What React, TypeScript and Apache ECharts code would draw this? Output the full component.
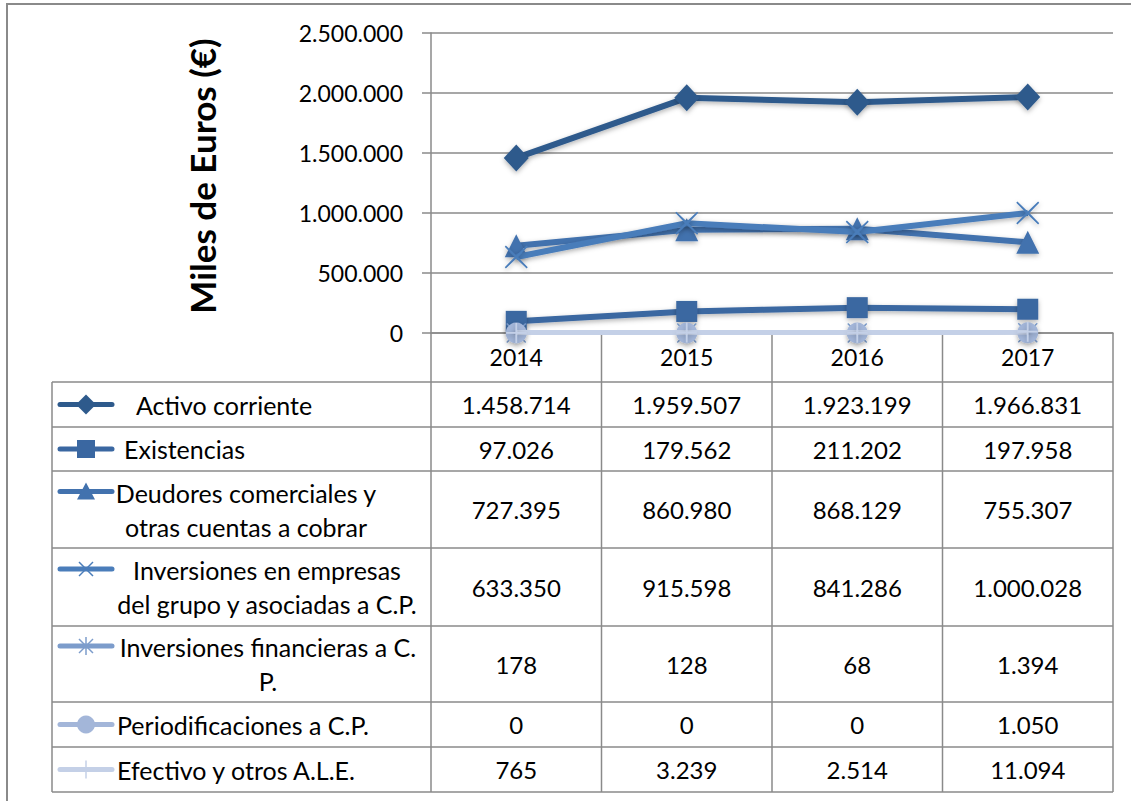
import React, { useEffect, useRef } from "react";
import * as echarts from "echarts";

const years = ["2014", "2015", "2016", "2017"];
const activoCorriente = [1458714, 1959507, 1923199, 1966831];
const existencias = [97026, 179562, 211202, 197958];
const deudores = [727395, 860980, 868129, 755307];
const invEmpresas = [633350, 915598, 841286, 1000028];
const invFinancieras = [178, 128, 68, 1394];
const periodificaciones = [0, 0, 0, 1050];
const efectivo = [765, 3239, 2514, 11094];

const seriesNames = [
  "Activo corriente",
  "Existencias",
  "Deudores comerciales y otras cuentas a cobrar",
  "Inversiones en empresas del grupo y asociadas a C.P.",
  "Inversiones financieras a C. P.",
  "Periodificaciones a C.P.",
  "Efectivo y otros A.L.E.",
];
const legendLines = [
  ["Activo corriente"],
  ["Existencias"],
  ["Deudores comerciales y", "otras cuentas a cobrar"],
  ["Inversiones en empresas", "del grupo y asociadas a C.P."],
  ["Inversiones financieras a C.", "P."],
  ["Periodificaciones a C.P."],
  ["Efectivo y otros A.L.E."],
];
const yMin = 0;
const yMax = 2500000;
const yInterval = 500000;

const FONT = "Lato, 'Noto Sans', sans-serif";
const GRID_LEFT = 431;
const GRID_TOP = 33;
const GRID_W = 682;
const GRID_H = 300;
const TABLE_LEFT = 52;
const ROW_LINES = [382, 427, 471, 548, 626, 702, 747, 792];
const LEGEND_TEXT = [
  { align: "left", x: 136 },
  { align: "left", x: 124 },
  { align: "center", x: 246 },
  { align: "center", x: 267 },
  { align: "center", x: 268 },
  { align: "left", x: 117 },
  { align: "left", x: 117 },
];
const GRID_COLOR = "#8a8a8a";
const colors = ["#2E5A8C", "#3A67A1", "#4272AE", "#4A7DBA", "#7C9CCB", "#A3B6D9", "#C4D0E7"];

const X_PATH =
  "path://M1,0 L10,8.6 L19,0 L20,1 L11.4,10 L20,19 L19,20 L10,11.4 L1,20 L0,19 L8.6,10 L0,1 Z";
const STAR_PATH =
  "path://M1,0 L10,8.6 L19,0 L20,1 L11.4,10 L20,19 L19,20 L10,11.4 L1,20 L0,19 L8.6,10 L0,1 Z M9.3,0 L10.7,0 L10.7,20 L9.3,20 Z";
const PLUS_PATH =
  "path://M9.2,0 L10.8,0 L10.8,20 L9.2,20 Z M0,9.2 L20,9.2 L20,10.8 L0,10.8 Z";

const fmt = (n: number) => String(n).replace(/\B(?=(\d{3})+(?!\d))/g, ".");

export default function App() {
  const ref = useRef<HTMLDivElement>(null);
  useEffect(() => {
    document.body.style.margin = "0";
    const chart = echarts.init(ref.current!, null, { renderer: "svg" });
    const data = [activoCorriente, existencias, deudores, invEmpresas, invFinancieras, periodificaciones, efectivo];
    const symbols = ["diamond", "rect", "triangle", X_PATH, STAR_PATH, "circle", PLUS_PATH];
    const sizes: any[] = [[25, 27], 21, [23, 23], 23, 20, 21, 20];

    const colW = GRID_W / years.length;
    const graphics: any[] = [];
    graphics.push({
      type: "rect",
      shape: { x: 7, y: 4, width: 1140, height: 820 },
      style: { fill: "none", stroke: GRID_COLOR, lineWidth: 2 },
      silent: true,
    });
    ROW_LINES.forEach((y) => {
      graphics.push({
        type: "line",
        shape: { x1: TABLE_LEFT, y1: y, x2: GRID_LEFT + GRID_W, y2: y },
        style: { stroke: GRID_COLOR, lineWidth: 1.5 },
        silent: true,
      });
    });
    graphics.push({
      type: "line",
      shape: { x1: TABLE_LEFT, y1: ROW_LINES[0], x2: TABLE_LEFT, y2: ROW_LINES[ROW_LINES.length - 1] },
      style: { stroke: GRID_COLOR, lineWidth: 1.5 },
      silent: true,
    });
    for (let i = 0; i <= years.length; i++) {
      const x = GRID_LEFT + i * colW;
      graphics.push({
        type: "line",
        shape: { x1: x, y1: GRID_TOP + GRID_H, x2: x, y2: ROW_LINES[ROW_LINES.length - 1] },
        style: { stroke: GRID_COLOR, lineWidth: 1.5 },
        silent: true,
      });
    }
    data.forEach((arr, r) => {
      const top = ROW_LINES[r];
      const bot = ROW_LINES[r + 1];
      const cy = (top + bot) / 2;
      arr.forEach((v, c) => {
        graphics.push({
          type: "text",
          x: GRID_LEFT + (c + 0.5) * colW,
          y: cy,
          style: {
            text: fmt(v),
            fontSize: 24,
            fontFamily: FONT,
            fill: "#000",
            textAlign: "center",
            textVerticalAlign: "middle",
          },
          silent: true,
        });
      });
      const lines = legendLines[r];
      const lh = 34;
      const y0 = cy - ((lines.length - 1) * lh) / 2;
      lines.forEach((t, k) => {
        graphics.push({
          type: "text",
          x: LEGEND_TEXT[r].x,
          y: y0 + k * lh,
          style: {
            text: t,
            fontSize: 25,
            fontFamily: FONT,
            fill: "#000",
            textAlign: LEGEND_TEXT[r].align,
            textVerticalAlign: "middle",
          },
          silent: true,
        });
      });
      const iy = lines.length > 1 ? y0 - 1 : cy;
      const col = colors[r];
      graphics.push({
        type: "line",
        shape: { x1: 60, y1: iy, x2: 112, y2: iy },
        style: { stroke: col, lineWidth: 5, lineCap: "round" },
        silent: true,
      });
      const mx = 86;
      if (r === 0) {
        graphics.push({ type: "polygon", shape: { points: [[mx, iy - 10], [mx + 10, iy], [mx, iy + 10], [mx - 10, iy]] }, style: { fill: col }, silent: true });
      } else if (r === 1) {
        graphics.push({ type: "rect", shape: { x: mx - 9, y: iy - 9, width: 18, height: 18 }, style: { fill: col }, silent: true });
      } else if (r === 2) {
        graphics.push({ type: "polygon", shape: { points: [[mx, iy - 9], [mx + 9, iy + 8], [mx - 9, iy + 8]] }, style: { fill: col }, silent: true });
      } else if (r === 3 || r === 4) {
        const d = 7;
        graphics.push({ type: "line", shape: { x1: mx - d, y1: iy - d, x2: mx + d, y2: iy + d }, style: { stroke: col, lineWidth: 1.5 }, silent: true });
        graphics.push({ type: "line", shape: { x1: mx - d, y1: iy + d, x2: mx + d, y2: iy - d }, style: { stroke: col, lineWidth: 1.5 }, silent: true });
        if (r === 4) {
          graphics.push({ type: "line", shape: { x1: mx, y1: iy - 9, x2: mx, y2: iy + 9 }, style: { stroke: col, lineWidth: 1.5 }, silent: true });
        }
      } else if (r === 5) {
        graphics.push({ type: "circle", shape: { cx: mx, cy: iy, r: 9 }, style: { fill: col }, silent: true });
      } else if (r === 6) {
        graphics.push({ type: "line", shape: { x1: mx, y1: iy - 9, x2: mx, y2: iy + 9 }, style: { stroke: col, lineWidth: 1.5 }, silent: true });
      }
    });

    chart.setOption({
      animation: false,
      backgroundColor: "#fff",
      grid: { left: GRID_LEFT, top: GRID_TOP, width: GRID_W, height: GRID_H, containLabel: false },
      xAxis: {
        type: "category",
        data: years,
        boundaryGap: true,
        axisLine: { lineStyle: { color: GRID_COLOR, width: 1.5 } },
        axisTick: { show: false },
        axisLabel: { fontSize: 23, fontFamily: FONT, color: "#000", margin: 12 },
        splitLine: { show: false },
      },
      yAxis: {
        type: "value",
        min: yMin,
        max: yMax,
        interval: yInterval,
        name: "Miles de Euros (€)",
        nameLocation: "middle",
        nameRotate: 90,
        nameGap: 212,
        nameTextStyle: { fontSize: 35, fontWeight: "bold", fontFamily: FONT, color: "#000", padding: [0, 0, 0, 14] },
        axisLine: { show: true, lineStyle: { color: GRID_COLOR, width: 1.5 } },
        axisTick: { show: true, length: 9, lineStyle: { color: GRID_COLOR, width: 1.5 } },
        axisLabel: { fontSize: 23, fontFamily: FONT, color: "#000", margin: 28, formatter: (v: number) => fmt(v) },
        splitLine: { lineStyle: { color: GRID_COLOR, width: 1.5 } },
      },
      series: data.map((arr, i) => ({
        name: seriesNames[i],
        type: "line",
        data: arr,
        symbol: symbols[i],
        symbolSize: sizes[i],
        showSymbol: true,
        lineStyle: {
          color: colors[i],
          width: 6,
          shadowBlur: 5,
          shadowColor: "rgba(0,0,0,0.3)",
          shadowOffsetY: 2,
        },
        itemStyle: {
          color: colors[i],
          shadowBlur: 5,
          shadowColor: "rgba(0,0,0,0.3)",
          shadowOffsetY: 2,
        },
        z: 2 + i,
      })),
      graphic: graphics,
    });
    return () => chart.dispose();
  }, []);
  return <div ref={ref} style={{ width: 1131, height: 801 }} />;
}
